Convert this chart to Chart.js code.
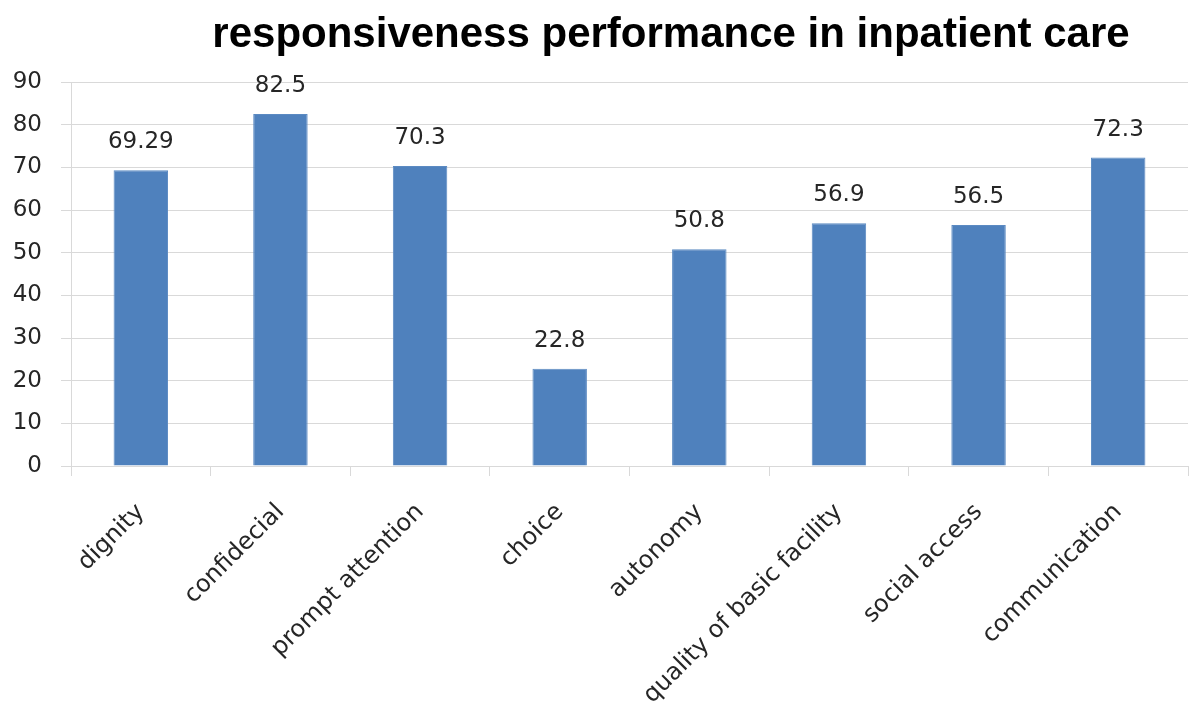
<!DOCTYPE html>
<html>
<head>
<meta charset="utf-8">
<script src="https://cdn.jsdelivr.net/npm/chart.js@4/dist/chart.umd.min.js"></script>
<style>
  html, body { margin: 0; padding: 0; background: #ffffff; }
  #wrap { width: 1190px; height: 704px; }
</style>
</head>
<body>
<div id="wrap"><canvas id="c" width="1190" height="704"></canvas></div>
<script>
const chartTitle = "responsiveness performance in inpatient care";
const categories = ["dignity", "confidecial", "prompt attention", "choice", "autonomy", "quality of basic facility", "social access", "communication"];
const values = [69.29, 82.5, 70.3, 22.8, 50.8, 56.9, 56.5, 72.3];
const valueLabels = ["69.29", "82.5", "70.3", "22.8", "50.8", "56.9", "56.5", "72.3"];
const yTicks = [0, 10, 20, 30, 40, 50, 60, 70, 80, 90];

const FONT = "'DejaVu Sans', sans-serif";

const valueLabelPlugin = {
  id: 'valueLabels',
  afterDatasetsDraw(chart) {
    const ctx = chart.ctx;
    const meta = chart.getDatasetMeta(0);
    ctx.save();
    ctx.font = "23px " + FONT;
    ctx.fillStyle = "#262626";
    ctx.textAlign = "center";
    ctx.textBaseline = "alphabetic";
    meta.data.forEach((bar, i) => {
      ctx.fillText(valueLabels[i], bar.x, bar.y - 22);
    });
    ctx.restore();
  }
};

const titlePlugin = {
  id: 'customTitle',
  afterDraw(chart) {
    const ctx = chart.ctx;
    ctx.save();
    ctx.font = "bold 42px 'Liberation Sans', sans-serif";
    ctx.fillStyle = "#000000";
    ctx.textAlign = "center";
    ctx.textBaseline = "middle";
    ctx.fillText(chartTitle, 671, 35);
    ctx.restore();
  }
};

new Chart(document.getElementById('c'), {
  type: 'bar',
  data: {
    labels: categories,
    datasets: [{
      data: values,
      backgroundColor: '#4F81BD',
      borderColor: '#5B8AC2',
      borderWidth: 1,
      categoryPercentage: 1,
      barPercentage: 0.39
    }]
  },
  options: {
    responsive: false,
    animation: false,
    layout: { padding: { top: 82, right: 2, left: 0, bottom: 0 } },
    plugins: {
      legend: { display: false },
      title: { display: false },
      tooltip: { enabled: false }
    },
    scales: {
      x: {
        offset: true,
        grid: {
          offset: true,
          drawOnChartArea: false,
          drawTicks: true,
          tickLength: 10,
          color: '#d9d9d9'
        },
        border: { display: true, color: '#d9d9d9' },
        ticks: {
          minRotation: 45,
          maxRotation: 45,
          padding: 22,
          color: '#262626',
          font: { family: FONT, size: 24 }
        },
        afterFit(scale) { scale.height = 238; }
      },
      y: {
        min: 0,
        max: 90,
        afterBuildTicks(scale) { scale.ticks = yTicks.map(v => ({ value: v })); },
        grid: {
          color: '#d9d9d9',
          tickLength: 10
        },
        border: { display: true, color: '#d9d9d9' },
        ticks: {
          padding: 19,
          color: '#262626',
          font: { family: FONT, size: 23 }
        },
        afterFit(scale) { scale.width = 71; }
      }
    }
  },
  plugins: [valueLabelPlugin, titlePlugin]
});
</script>
</body>
</html>
